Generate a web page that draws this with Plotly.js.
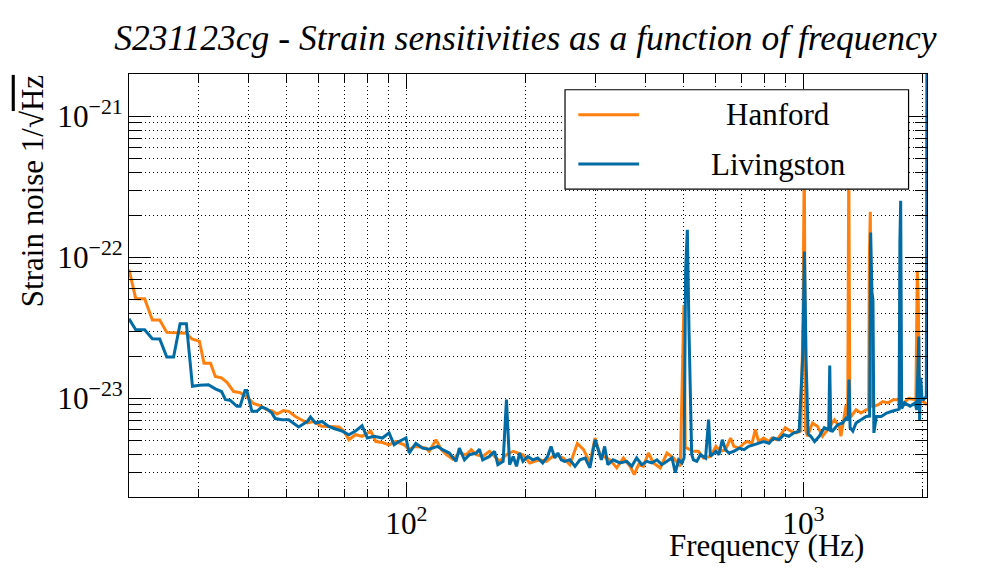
<!DOCTYPE html>
<html>
<head>
<meta charset="utf-8">
<script src="https://cdn.plot.ly/plotly-3.0.1.min.js"></script>
<style>
  html, body { margin: 0; padding: 0; background: #fff; }
  #chart { width: 996px; height: 572px; }
</style>
</head>
<body>
<div id="chart"></div>
<script>
// Strain ASD (Hz, 1/sqrt(Hz))
var hanford_freq = [
  20, 20.8, 21.9, 22.9, 23.9, 24.9, 27.9, 28.8, 30.1, 30.9,
  32.1, 33.0, 34.2, 35.3, 36.7, 38.1, 39.6, 41.2, 42.8, 44.5,
  45.8, 47.2, 49.0, 50.5, 52.5, 54.4, 56.3, 58.3, 61.1, 63.7,
  67.6, 69.6, 71.6, 74.4, 77.3, 81.3, 83.7, 87.0, 90.4, 94.0,
  98.7, 101.6, 104.6, 108.7, 112.0, 114.1, 118.7, 122.4, 126.1, 130.7,
  135.9, 141.4, 145.6, 149.9, 155.6, 161.9, 171.6, 178.6, 185.8, 196.5,
  204.4, 216.6, 225.2, 236.4, 248.3, 258.0, 269.4, 279.4, 289.9, 298.6,
  307.3, 325.7, 338.6, 352.0, 365.9, 374.8, 384.2, 395.4, 406.9, 418.9,
  435.8, 453.1, 471.0, 489.7, 496, 500, 504, 528.4, 544.0, 560.1,
  583.3, 602.0, 618.2, 636.6, 655.4, 668.0, 688.8, 708.9, 722.3, 742.3,
  756.7, 771.0, 793.8, 819.1, 833.0, 857.7, 883.1, 900.1, 929.6, 958.3,
  985.0, 994, 998, 1001, 1005, 1012, 1024, 1054, 1086, 1117,
  1151, 1197, 1232, 1243, 1281, 1293, 1301, 1309, 1318, 1357,
  1397, 1439, 1460, 1466, 1474, 1484, 1501, 1540, 1585, 1634,
  1684, 1735, 1788, 1843, 1898, 1920, 1926, 1936, 1948, 1958,
  2006, 2048
];
var hanford_asd = [
  8.2e-23, 5.1e-23, 5.1e-23, 3.6e-23, 3.6e-23, 2.94e-23, 2.9e-23, 2.64e-23, 2.54e-23, 1.78e-23,
  1.78e-23, 1.43e-23, 1.40e-23, 1.30e-23, 1.12e-23, 1.10e-23, 1.03e-23, 9.2e-24, 8.9e-24, 8.3e-24,
  8.2e-24, 7.75e-24, 8.2e-24, 8.1e-24, 7.45e-24, 7.06e-24, 6.7e-24, 6.87e-24, 6.36e-24, 6.33e-24,
  6.27e-24, 5.87e-24, 5.09e-24, 5.53e-24, 5.39e-24, 5.87e-24, 4.95e-24, 4.87e-24, 4.69e-24, 4.95e-24,
  4.69e-24, 4.33e-24, 4.57e-24, 4.52e-24, 4.44e-24, 4.22e-24, 5.09e-24, 4.33e-24, 3.99e-24, 3.72e-24,
  4.1e-24, 3.99e-24, 4.33e-24, 3.99e-24, 3.88e-24, 4.22e-24, 3.58e-24, 3.99e-24, 4.22e-24, 3.99e-24,
  3.49e-24, 3.67e-24, 3.58e-24, 3.99e-24, 3.78e-24, 3.39e-24, 4.8e-24, 4.33e-24, 3.49e-24, 5.24e-24,
  3.99e-24, 3.67e-24, 3.22e-24, 3.78e-24, 3.30e-24, 2.88e-24, 3.39e-24, 3.30e-24, 4.1e-24, 3.49e-24,
  3.22e-24, 4.1e-24, 3.78e-24, 3.30e-24, 2.4e-23, 4.6e-23, 4.5e-24, 4.22e-24, 4.22e-24, 3.78e-24,
  3.88e-24, 4.57e-24, 4.22e-24, 4.33e-24, 5.24e-24, 4.57e-24, 4.44e-24, 4.81e-24, 4.95e-24, 4.81e-24,
  6.0e-24, 4.95e-24, 5.24e-24, 4.95e-24, 5.24e-24, 5.09e-24, 5.7e-24, 6.2e-24, 5.87e-24, 5.7e-24,
  5.87e-24, 2.07e-23, 3.65e-23, 1.27e-22, 5e-22, 6.0e-24, 5.39e-24, 6.7e-24, 6.33e-24, 5.39e-24,
  6.0e-24, 7.06e-24, 6.33e-24, 5.39e-24, 9.0e-24, 7.5e-24, 5e-22, 7.45e-24, 7.45e-24, 8.31e-24,
  7.88e-24, 8.31e-24, 8.3e-24, 1.03e-22, 2.11e-22, 8.8e-24, 8.8e-24, 9.0e-24, 9.5e-24, 9.3e-24,
  9.79e-24, 9.79e-24, 9.3e-24, 1.0e-23, 9.79e-24, 9.8e-24, 2.2e-23, 8.05e-23, 4.6e-23, 9.5e-24,
  9.5e-24, 9.0e-24
];

var livingston_freq = [
  20, 20.8, 21.9, 22.9, 23.9, 24.9, 25.9, 26.9, 27.9, 28.9,
  30.1, 31.7, 33.0, 34.2, 35.0, 36.0, 37.4, 38.1, 39.2, 39.6,
  40.8, 42.0, 43.2, 44.5, 45.8, 46.7, 48.6, 50.5, 53.5, 56.3,
  57.3, 59.0, 61.3, 63.7, 66.3, 68.9, 71.6, 74.4, 77.3, 79.7,
  82.9, 87.0, 90.4, 93.1, 95.8, 99.7, 101.6, 105.6, 109.8, 114.1,
  119.8, 123.3, 128.2, 133.3, 135.9, 140.0, 144.1, 149.9, 152.7, 155.6,
  161.9, 166.7, 169.9, 175.2, 178.6, 181.9, 185.8, 189.3, 192.8, 196.5,
  202.1, 208.0, 214.1, 220.4, 226.8, 231.3, 236.4, 240.6, 245.4, 250.2,
  258.0, 265.8, 273.5, 281.9, 289.9, 298.6, 304.1, 309.8, 315.7, 321.6,
  331.5, 345.2, 358.9, 369.4, 380.1, 391.6, 402.9, 415.0, 427.5, 440.1,
  453.1, 466.6, 475.6, 484.9, 494.4, 500.5, 505, 510, 515, 519,
  523, 528.4, 538.8, 550.2, 566.8, 577, 583, 589.9, 602.0, 612.7,
  624.5, 636.6, 649.0, 668.0, 688.8, 708.9, 727.9, 749.3, 771.0, 793.8,
  819.1, 841.1, 868.2, 892.7, 919.4, 946.9, 975.7, 996, 1006, 1016,
  1028, 1044, 1067, 1096, 1129, 1158, 1165, 1172, 1184, 1220,
  1256, 1281, 1296, 1303, 1311, 1332, 1357, 1397, 1439, 1468,
  1477, 1488, 1497, 1505, 1526, 1570, 1621, 1664, 1716, 1742,
  1750, 1758, 1768, 1800, 1856, 1911, 1930, 1941, 1953, 1962,
  1975, 1990, 2006, 2040, 2047
];
var livingston_asd = [
  3.67e-23, 3.07e-23, 3.07e-23, 2.65e-23, 2.64e-23, 1.97e-23, 1.97e-23, 3.39e-23, 3.39e-23, 1.22e-23,
  1.24e-23, 1.25e-23, 1.17e-23, 1.12e-23, 9.8e-24, 9.7e-24, 8.8e-24, 8.8e-24, 1.14e-23, 1.14e-23,
  8.1e-24, 8.1e-24, 8.7e-24, 8.4e-24, 7.9e-24, 7.2e-24, 7.06e-24, 7.06e-24, 6.27e-24, 6.87e-24,
  7.38e-24, 6.7e-24, 6.87e-24, 6.33e-24, 6.07e-24, 5.87e-24, 5.53e-24, 5.87e-24, 6.4e-24, 5.24e-24,
  5.39e-24, 5.24e-24, 5.7e-24, 4.69e-24, 4.95e-24, 5.24e-24, 4.1e-24, 4.81e-24, 4.44e-24, 4.37e-24,
  4.57e-24, 4.33e-24, 4.1e-24, 3.58e-24, 4.44e-24, 3.67e-24, 3.99e-24, 4.1e-24, 4.37e-24, 3.67e-24,
  3.88e-24, 4.22e-24, 3.39e-24, 3.58e-24, 9.8e-24, 3.39e-24, 3.88e-24, 3.30e-24, 4.1e-24, 3.58e-24,
  3.88e-24, 3.67e-24, 3.78e-24, 3.49e-24, 3.88e-24, 4.57e-24, 3.78e-24, 4.1e-24, 3.67e-24, 3.58e-24,
  3.67e-24, 3.30e-24, 3.67e-24, 3.78e-24, 3.22e-24, 5.09e-24, 4.33e-24, 3.67e-24, 4.57e-24, 3.39e-24,
  3.67e-24, 3.49e-24, 3.58e-24, 3.30e-24, 3.78e-24, 3.39e-24, 3.58e-24, 3.49e-24, 3.67e-24, 3.39e-24,
  3.58e-24, 3.78e-24, 2.98e-24, 3.67e-24, 3.49e-24, 3.8e-24, 8.2e-23, 1.57e-22, 3.0e-23, 1.1e-23,
  4.0e-24, 3.67e-24, 3.58e-24, 3.99e-24, 3.78e-24, 7.07e-24, 3.9e-24, 3.99e-24, 4.22e-24, 3.99e-24,
  5.09e-24, 4.33e-24, 4.1e-24, 4.22e-24, 4.44e-24, 4.33e-24, 4.57e-24, 4.69e-24, 4.81e-24, 4.95e-24,
  4.81e-24, 5.24e-24, 5.09e-24, 5.53e-24, 5.39e-24, 5.7e-24, 5.87e-24, 2.0e-23, 1.1e-22, 1.8e-23,
  5.6e-24, 5.39e-24, 4.95e-24, 5.39e-24, 6.2e-24, 6.0e-24, 1.71e-23, 5.9e-24, 5.87e-24, 6.51e-24,
  6.7e-24, 7.25e-24, 7.0e-24, 1.36e-23, 6.2e-24, 5.87e-24, 6.7e-24, 7.06e-24, 7.45e-24, 7.5e-24,
  1.5e-22, 5.7e-23, 5.0e-23, 5.7e-24, 7.45e-24, 7.45e-24, 7.88e-24, 8.08e-24, 8.31e-24, 8.4e-24,
  1.3e-22, 2.52e-22, 8.5e-24, 9.3e-24, 8.8e-24, 9.3e-24, 8.3e-24, 1.7e-23, 2.75e-23, 7.0e-24,
  1.4e-23, 9.9e-24, 9.79e-24, 1.03e-23, 3e-21
];

var series_names = ['Hanford', 'Livingston'];
var series_colors = ['#ff800e', '#006ba4'];

var chart_title = 'S231123cg - Strain sensitivities as a function of frequency';
var x_label = 'Frequency (Hz)';
var y_label = 'Strain noise 1/\u221A<span style="text-decoration:overline">Hz</span>';

var freq_range = [20, 2048];
var asd_range = [2e-24, 2e-21];

var serif = 'Liberation Serif';

function makeTrace(freq, asd, i){
  return {
    x: freq,
    y: asd,
    type: 'scatter',
    mode: 'lines',
    name: series_names[i],
    showlegend: false,
    line: {color: series_colors[i], width: 3}
  };
}

var data = [
  makeTrace(hanford_freq, hanford_asd, 0),
  makeTrace(livingston_freq, livingston_asd, 1)
];

// axis styling shared by x and y (ROOT-like: inside ticks, dotted grid on every tick)
function axisStyle(majorLen, minorLen){
  return {
    type: 'log',
    dtick: 1,
    tick0: 0,
    exponentformat: 'power',
    showexponent: 'all',
    ticks: 'inside',
    ticklen: majorLen,
    tickwidth: 1,
    tickcolor: '#000',
    showline: true,
    linecolor: '#000',
    linewidth: 1.2,
    mirror: 'ticks',
    showgrid: true,
    gridcolor: '#000',
    gridwidth: 1,
    griddash: '1px,3px',
    zeroline: false,
    tickfont: {family: serif, size: 25, color: '#000'},
    minor: {
      dtick: 'D1',
      ticks: 'inside',
      ticklen: minorLen,
      tickcolor: '#000',
      showgrid: true,
      gridcolor: '#000',
      gridwidth: 1,
      griddash: '1px,3px'
    }
  };
}

var xaxis = axisStyle(15, 8);
xaxis.range = [Math.log10(freq_range[0]), Math.log10(freq_range[1])];
var yaxis = axisStyle(22, 12);
yaxis.range = [Math.log10(asd_range[0]), Math.log10(asd_range[1])];

// legend box drawn as shapes so it covers the curves like the original
var leg_x0 = 0.5464, leg_x1 = 0.9769, leg_y0 = 0.7277, leg_y1 = 0.9628;
var leg_rows = [0.9036, 0.7872];
var shapes = [{
  type: 'rect', xref: 'paper', yref: 'paper', layer: 'above',
  x0: leg_x0, x1: leg_x1, y0: leg_y0, y1: leg_y1,
  fillcolor: '#fff', line: {color: '#000', width: 1.2}
}];
var annotations = [];
for (var i = 0; i < series_names.length; i++) {
  shapes.push({
    type: 'line', xref: 'paper', yref: 'paper', layer: 'above',
    x0: 0.5631, x1: 0.6392, y0: leg_rows[i], y1: leg_rows[i],
    line: {color: series_colors[i], width: 3}
  });
  annotations.push({
    xref: 'paper', yref: 'paper', x: 0.8135, y: leg_rows[i],
    xanchor: 'center', yanchor: 'middle', showarrow: false,
    text: series_names[i],
    font: {family: serif, size: 31, color: '#000'}
  });
}

// axis titles sit at the far end of the axes, as ROOT does
annotations.push({
  xref: 'paper', yref: 'paper', x: 0.924, y: -0.114,
  xanchor: 'right', yanchor: 'middle', showarrow: false,
  text: x_label,
  font: {family: serif, size: 31, color: '#000'}
});
annotations.push({
  xref: 'paper', yref: 'paper', x: -0.121, y: 1.003,
  xanchor: 'center', yanchor: 'top', showarrow: false, textangle: -90,
  text: y_label,
  font: {family: serif, size: 31, color: '#000'}
});

var layout = {
  width: 996,
  height: 572,
  margin: {l: 129, r: 69, t: 74, b: 75},
  paper_bgcolor: '#fff',
  plot_bgcolor: '#fff',
  title: {
    text: '<i>' + chart_title + '</i>',
    x: 0.5275, xanchor: 'center', xref: 'container',
    y: 0.934, yanchor: 'middle', yref: 'container',
    font: {family: serif, size: 35.5, color: '#000'}
  },
  xaxis: xaxis,
  yaxis: yaxis,
  showlegend: false,
  shapes: shapes,
  annotations: annotations
};

Plotly.newPlot('chart', data, layout, {displayModeBar: false, staticPlot: true});
</script>
</body>
</html>
